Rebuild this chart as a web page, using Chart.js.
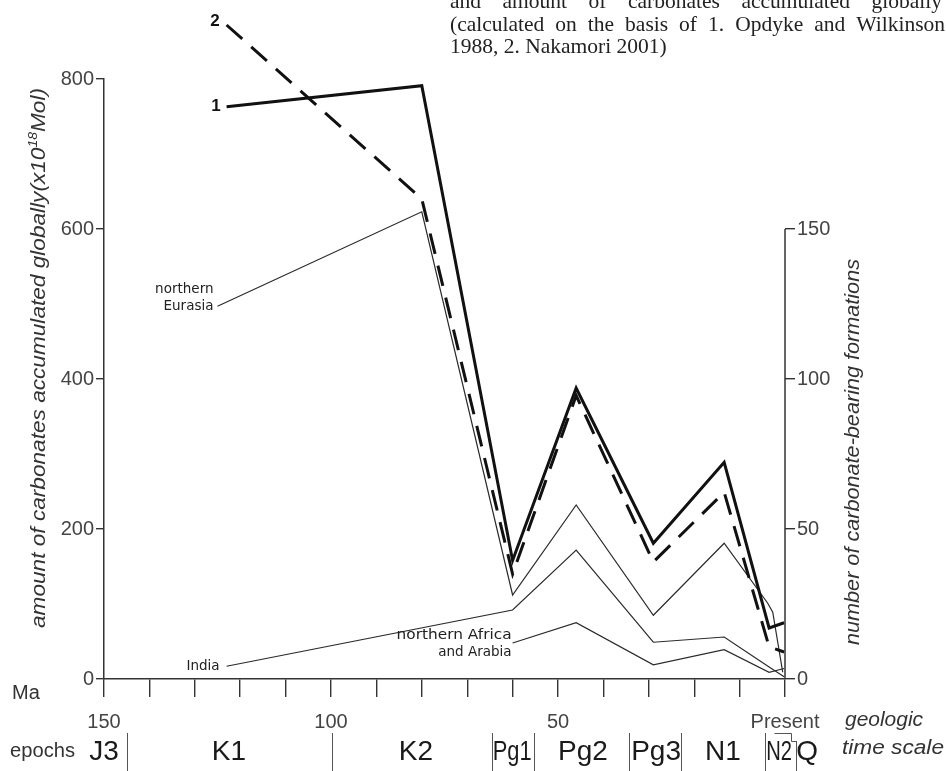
<!DOCTYPE html>
<html>
<head>
<meta charset="utf-8">
<script src="https://cdn.jsdelivr.net/npm/chart.js@4.4.0/dist/chart.umd.min.js"></script>
<style>
	html, body { margin: 0; padding: 0; background: #fff; }
	#wrap { width: 946px; height: 771px; position: relative; }
</style>
</head>
<body>
<div id="wrap"><canvas id="chart"></canvas></div>
<script>
// DATA =====================================================

// ages in Ma, values in 10^18 Mol (left axis units)
const ageLine1 = [123, 80, 60, 46, 29, 13.4, 3.5, 0.2];
const valLine1 = [763, 791, 158, 388, 181, 289, 68, 75];
const ageLine2 = [123, 80, 60, 46, 29, 13.4, 3.5, 0.2];
const valLine2 = [872, 640, 140, 378, 156, 249, 43, 36];
const ageEurasia = [125, 80, 60, 46, 29, 13.4, 3.8, 2.7, 0.5];
const valEurasia = [497, 623, 112, 232, 85, 181, 101, 89, 9];
const ageIndia = [123, 60, 46, 29, 13.4, 3.5, 0.2];
const valIndia = [17, 92, 172, 49, 56, 16, 3];
const ageAfrica = [60, 46, 29, 13.4, 3.5, 0.2];
const valAfrica = [48, 75, 19, 39, 9, 14];

const leftTicks = [0, 200, 400, 600, 800];
const rightTicks = [0, 50, 100, 150];
const ageTicks = [150, 140, 130, 120, 110, 100, 90, 80, 70, 60, 50, 40, 30, 20, 10, 0];
const ageTickLabels = { 150: "150", 100: "100", 50: "50", 0: "Present" };

const epochNames = ["J3", "K1", "K2", "Pg1", "Pg2", "Pg3", "N1", "N2", "Q"];
const epochCentres = [150, 122.5, 81.3, 60.1, 44.5, 28.4, 13.7, 1.3, -4.9];
const epochBounds = [144.9, 99.8, 64.5, 55.3, 34.4, 22.9, 4.4, -2.5];

const titleLines = [
	"and amount of carbonates accumulated globally",
	"(calculated on the basis of 1. Opdyke and Wilkinson",
	"1988, 2. Nakamori 2001)",
];

// HELPERS ==================================================

const SANS = "'Liberation Sans', Arial, sans-serif";
const toPoints = function (ages, vals) {
	return ages.map((a, i) => ({ x: a, y: vals[i] }));
};

const drawText = function (ctx, text, x, y, font, align, fitWidth) {
	ctx.font = font;
	ctx.textAlign = align;
	ctx.textBaseline = "middle";
	if (fitWidth) {
		const w = ctx.measureText(text).width;
		ctx.save();
		ctx.translate(x, y);
		ctx.scale(fitWidth / w, 1);
		ctx.fillText(text, 0, 0);
		ctx.restore();
	} else {
		ctx.fillText(text, x, y);
	}
};

const drawJustified = function (ctx, text, x, y, width) {
	const words = text.split(" ");
	let total = 0;
	for (let i = 0; i < words.length; i++) total += ctx.measureText(words[i]).width;
	const gap = (width - total) / (words.length - 1);
	let cx = x;
	for (let i = 0; i < words.length; i++) {
		ctx.fillText(words[i], cx, y);
		cx += ctx.measureText(words[i]).width + gap;
	}
};

// rotated title with pieces [text, size, rise]
const drawVertical = function (ctx, pieces, cx, cy, length) {
	let total = 0;
	for (let i = 0; i < pieces.length; i++) {
		ctx.font = `italic ${pieces[i][1]}px ${SANS}`;
		total += ctx.measureText(pieces[i][0]).width;
	}
	ctx.save();
	ctx.translate(cx, cy);
	ctx.rotate(-Math.PI / 2);
	ctx.scale(length / total, 1);
	ctx.textAlign = "left";
	ctx.textBaseline = "middle";
	let px = -total / 2;
	for (let i = 0; i < pieces.length; i++) {
		ctx.font = `italic ${pieces[i][1]}px ${SANS}`;
		ctx.fillText(pieces[i][0], px, -pieces[i][2]);
		px += ctx.measureText(pieces[i][0]).width;
	}
	ctx.restore();
};

// PLUGIN ===================================================

const extras = {
	id: "extras",
	afterDraw: function (chart) {
		const ctx = chart.ctx;
		const xs = chart.scales.x;
		const ys = chart.scales.y;
		const ys2 = chart.scales.y1;
		const area = chart.chartArea;
		ctx.save();

		// right axis line only spans 0..150
		ctx.strokeStyle = "#333";
		ctx.lineWidth = 1.5;
		ctx.beginPath();
		ctx.moveTo(area.right, ys2.getPixelForValue(0));
		ctx.lineTo(area.right, ys2.getPixelForValue(rightTicks[rightTicks.length - 1]));
		ctx.stroke();

		// title text
		ctx.fillStyle = "#222";
		ctx.font = "21.5px 'Liberation Serif', 'Times New Roman', serif";
		ctx.textAlign = "left";
		ctx.textBaseline = "alphabetic";
		drawJustified(ctx, titleLines[0], 450, 8, 492);
		drawJustified(ctx, titleLines[1], 450, 31, 495);
		ctx.fillText(titleLines[2], 450, 53);

		// series labels "1" and "2"
		ctx.fillStyle = "#111";
		let px = xs.getPixelForValue(ageLine1[0]);
		let py = ys.getPixelForValue(valLine1[0]);
		drawText(ctx, "1", px - 6, py, `bold 17px ${SANS}`, "right");
		px = xs.getPixelForValue(ageLine2[0]);
		py = ys.getPixelForValue(valLine2[0]);
		drawText(ctx, "2", px - 7, py - 4, `bold 17px ${SANS}`, "right");

		// region labels
		const regFont = "13.5px 'DejaVu Sans', Verdana, sans-serif";
		ctx.fillStyle = "#222";
		px = xs.getPixelForValue(ageEurasia[0]);
		py = ys.getPixelForValue(valEurasia[0]);
		drawText(ctx, "northern", px - 4, py - 17, regFont, "right");
		drawText(ctx, "Eurasia", px - 4, py, regFont, "right");
		px = xs.getPixelForValue(ageIndia[0]);
		py = ys.getPixelForValue(valIndia[0]);
		drawText(ctx, "India", px - 7, py, regFont, "right");
		px = xs.getPixelForValue(ageAfrica[0]);
		py = ys.getPixelForValue(valAfrica[0]);
		drawText(ctx, "northern Africa", px - 1, py - 8, regFont, "right", 115);
		drawText(ctx, "and Arabia", px - 1, py + 9, regFont, "right");

		// axis titles
		ctx.fillStyle = "#333";
		drawVertical(ctx, [["amount of carbonates accumulated globally(x10", 21, 0], ["18", 13, 6], ["Mol)", 21, 0]], 39, 358, 540);
		drawVertical(ctx, [["number of carbonate-bearing formations", 20, 0]], 853, 452, 386);

		// time scale texts
		ctx.fillStyle = "#333";
		drawText(ctx, "Ma", 12, 693, `20px ${SANS}`, "left");
		drawText(ctx, "epochs", 10, 751, `20px ${SANS}`, "left", 65);
		drawText(ctx, "geologic", 845, 720, `italic 20px ${SANS}`, "left", 78);
		drawText(ctx, "time scale", 842, 748, `italic 20px ${SANS}`, "left", 102);

		// epochs row
		ctx.fillStyle = "#1a1a1a";
		const squeeze = { Pg1: 0.78, N2: 0.72 };
		for (let i = 0; i < epochNames.length; i++) {
			const name = epochNames[i];
			ctx.font = `28px ${SANS}`;
			const w = ctx.measureText(name).width * (squeeze[name] || 1);
			drawText(ctx, name, xs.getPixelForValue(epochCentres[i]), 752, `28px ${SANS}`, "center", w);
		}
		ctx.strokeStyle = "#555";
		ctx.lineWidth = 1;
		for (let i = 0; i < epochBounds.length; i++) {
			const bx = Math.round(xs.getPixelForValue(epochBounds[i])) + 0.5;
			const top = i === epochBounds.length - 1 ? 741 : 733;
			ctx.beginPath();
			ctx.moveTo(bx, top);
			ctx.lineTo(bx, 771);
			ctx.stroke();
		}
		// little bracket over N2
		const b1 = Math.round(xs.getPixelForValue(2.4)) + 0.5;
		const b2 = Math.round(xs.getPixelForValue(-1.4)) + 0.5;
		const b3 = Math.round(xs.getPixelForValue(epochBounds[epochBounds.length - 1])) + 0.5;
		ctx.beginPath();
		ctx.moveTo(b1, 733.5);
		ctx.lineTo(b2, 733.5);
		ctx.lineTo(b2, 741.5);
		ctx.lineTo(b3, 741.5);
		ctx.stroke();

		ctx.restore();
	},
};

// CHART ====================================================

const thin = { borderColor: "#2a2a2a", borderWidth: 1.2, pointRadius: 0, tension: 0, clip: false };
const thick = { borderColor: "#111", borderWidth: 3, pointRadius: 0, tension: 0, clip: false };

const config = {
	type: "line",
	data: {
		datasets: [
			Object.assign({ label: "1", data: toPoints(ageLine1, valLine1) }, thick),
			Object.assign({ label: "2", data: toPoints(ageLine2, valLine2), borderDash: [21, 12] }, thick),
			Object.assign({ label: "northern Eurasia", data: toPoints(ageEurasia, valEurasia) }, thin),
			Object.assign({ label: "India", data: toPoints(ageIndia, valIndia) }, thin),
			Object.assign({ label: "northern Africa and Arabia", data: toPoints(ageAfrica, valAfrica) }, thin),
		],
	},
	options: {
		responsive: true,
		maintainAspectRatio: false,
		animation: false,
		devicePixelRatio: 1,
		layout: { padding: { top: 79, left: 0, right: 0, bottom: 0 } },
		plugins: { legend: { display: false }, tooltip: { enabled: false } },
		scales: {
			x: {
				type: "linear",
				position: "bottom",
				reverse: true,
				min: 0,
				max: 150,
				afterBuildTicks: function (scale) {
					scale.ticks = ageTicks.map((v) => ({ value: v }));
				},
				afterFit: function (scale) {
					scale.height = 92;
				},
				ticks: {
					autoSkip: false,
					maxRotation: 0,
					padding: 13,
					color: "#444",
					font: { family: SANS, size: 20 },
					callback: (v) => (ageTickLabels[v] !== undefined ? ageTickLabels[v] : ""),
				},
				grid: { drawOnChartArea: false, tickLength: 18, color: "#333", lineWidth: 1.4 },
				border: { color: "#333", width: 1.5 },
			},
			y: {
				position: "left",
				min: 0,
				max: 800,
				afterBuildTicks: function (scale) {
					scale.ticks = leftTicks.map((v) => ({ value: v }));
				},
				afterFit: function (scale) {
					scale.width = 104;
				},
				ticks: { padding: 2, color: "#444", font: { family: SANS, size: 20 } },
				grid: { drawOnChartArea: false, tickLength: 8, color: "#333", lineWidth: 1.4 },
				border: { color: "#333", width: 1.5 },
			},
			y1: {
				position: "right",
				min: 0,
				max: 200,
				afterBuildTicks: function (scale) {
					scale.ticks = rightTicks.map((v) => ({ value: v }));
				},
				afterFit: function (scale) {
					scale.width = 946 - 785;
				},
				ticks: { padding: 2, color: "#444", font: { family: SANS, size: 20 } },
				grid: { drawOnChartArea: false, tickLength: 10, color: "#333", lineWidth: 1.4 },
				border: { display: false },
			},
		},
	},
	plugins: [extras],
};

new Chart(document.getElementById("chart"), config);
</script>
</body>
</html>
